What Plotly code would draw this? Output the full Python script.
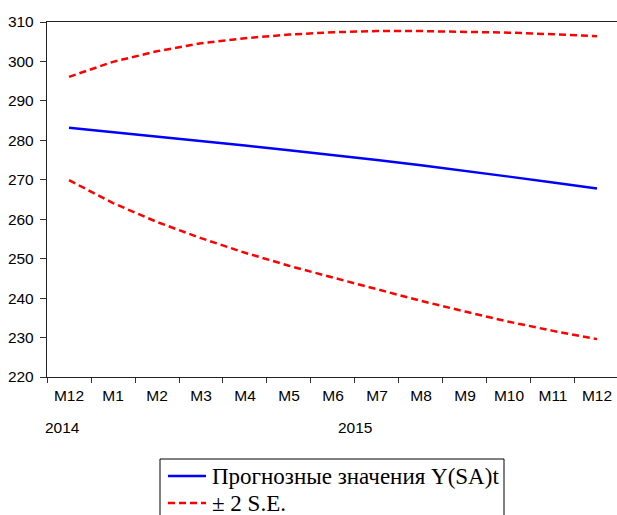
import plotly.graph_objects as go

tick_labels = ["M12", "M1", "M2", "M3", "M4", "M5", "M6", "M7", "M8", "M9", "M10", "M11", "M12"]
x_idx = list(range(len(tick_labels)))
forecast = [283.2, 282.1, 281.0, 279.9, 278.7, 277.5, 276.3, 275.0, 273.7, 272.3, 270.8, 269.3, 267.8]
upper = [296.1, 299.9, 302.6, 304.6, 305.9, 306.8, 307.4, 307.7, 307.7, 307.5, 307.3, 306.9, 306.4]
lower = [269.9, 264.1, 259.3, 255.2, 251.5, 248.2, 245.2, 242.3, 239.3, 236.6, 234.0, 231.7, 229.6]
years = ["2014", "2015"]
year_pos = [-0.5, 6.5]
legend_names = ["Прогнозные значения Y(SA)t", "± 2 S.E."]

W, H = 617, 515
ML, MR, MT, MB = 47, 0, 22, 138
PW, PH = W - ML - MR, H - MT - MB

def px(x):
    return (x - ML) / PW

def py(y):
    return (H - MB - y) / PH

AX_FONT = dict(family="Liberation Sans, Arial, sans-serif", size=15.5, color="black")
LEG_FONT = dict(family="Liberation Serif, Times New Roman, serif", size=23, color="black")
BLUE, RED = "#0000ff", "#ff0000"
DASH = "7px,4px"

fig = go.Figure()
fig.add_trace(go.Scatter(x=x_idx, y=forecast, mode="lines", name=legend_names[0], showlegend=False,
                         line=dict(color=BLUE, width=2.5)))
fig.add_trace(go.Scatter(x=x_idx, y=upper, mode="lines", name=legend_names[1], showlegend=False,
                         line=dict(color=RED, width=2.5, dash=DASH)))
fig.add_trace(go.Scatter(x=x_idx, y=lower, mode="lines", name=legend_names[1], showlegend=False,
                         line=dict(color=RED, width=2.5, dash=DASH)))

fig.update_layout(
    width=W, height=H,
    margin=dict(l=ML, r=MR, t=MT, b=MB, autoexpand=False),
    paper_bgcolor="white", plot_bgcolor="white",
    showlegend=False,
)
fig.update_xaxes(
    range=[-0.5, 12.455], tickmode="array", tickvals=x_idx, ticktext=tick_labels,
    ticks="", ticklabelstandoff=4, showgrid=False, zeroline=False,
    showline=True, linecolor="#222222", linewidth=1.3, mirror=True,
    tickfont=AX_FONT,
    minor=dict(tickmode="linear", tick0=0.5, dtick=1, ticks="outside", ticklen=5,
               tickcolor="#333333", tickwidth=1, showgrid=False),
)
fig.update_yaxes(
    range=[220, 310], dtick=10, tick0=220, ticks="outside", ticklen=6, tickcolor="#333333",
    ticklabelstandoff=3,
    showgrid=False, zeroline=False, showline=True, linecolor="#222222", linewidth=1.3, mirror=False,
    tickfont=AX_FONT,
)
for label, pos in zip(years, year_pos):
    fig.add_annotation(x=pos, y=0, xref="x", yref="paper", yshift=-61, text=label,
                       showarrow=False, font=AX_FONT,
                       xanchor="left" if label == "2014" else "center",
                       xshift=-4 if label == "2014" else 0)

# legend box (drawn manually so it does not push the plot margins)
fig.add_shape(type="rect", xref="paper", yref="paper", x0=px(160), x1=px(504), y0=py(459), y1=py(540),
              line=dict(color="black", width=1), fillcolor="white", layer="above")
legend_rows = [(476, BLUE, "solid"), (503, RED, DASH)]
for (ry, col, dash), name in zip(legend_rows, legend_names):
    fig.add_shape(type="line", xref="paper", yref="paper", x0=px(168), x1=px(206), y0=py(ry), y1=py(ry),
                  line=dict(color=col, width=2.5, dash=dash), layer="above")
    fig.add_annotation(x=px(210), y=py(ry), xref="paper", yref="paper", text=name, showarrow=False,
                       xanchor="left", yanchor="middle", font=LEG_FONT)

fig.write_html("out.html", config={"displayModeBar": False},
               post_script="document.body.style.margin='0';document.body.style.overflow='hidden';")
